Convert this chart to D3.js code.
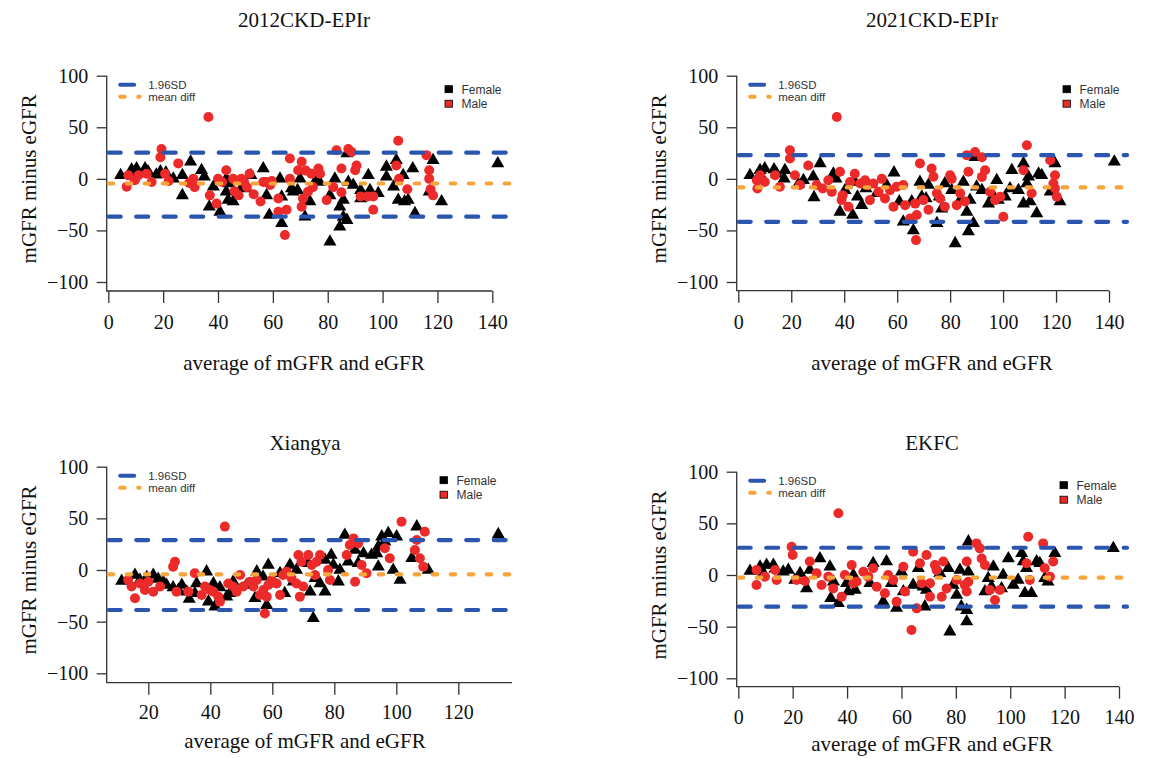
<!DOCTYPE html>
<html>
<head>
<meta charset="utf-8">
<script src="https://cdn.jsdelivr.net/npm/d3@7"></script>
<style>
  body { margin: 0; background: #fff; }
  svg { display: block; }
</style>
</head>
<body>
<svg id="chart" width="1164" height="758"></svg>
<script>
// Bland-Altman style plots: [average of mGFR and eGFR, mGFR minus eGFR]

const yTicks = [-100, -50, 0, 50, 100]
const xTicksFull = [0, 20, 40, 60, 80, 100, 120, 140]
const xTicksXiangya = [20, 40, 60, 80, 100, 120]

// limits: [upper 1.96SD, mean diff, lower 1.96SD]
const ckd2012Limits = [25.4, -4.5, -36.7]
const ckd2021Limits = [23, -8.3, -41.7]
const xiangyaLimits = [29, -4.2, -38.7]
const ekfcLimits = [26.4, -2.6, -30.7]

const ckd2012Female = [[4.5,3.5],[8.5,9],[8.9,2.6],[10.3,10],[13.4,10],[14.5,7],[17.5,4],[19,7],[21,6],[23.7,0],[27,3.5],[27,-16],[30,16.5],[34,8.4],[35,2],[36.8,-27],[38.3,-7.7],[40.7,-32],[43,0],[43,-12.6],[43.7,-20.6],[44,-4.5],[45.5,-22],[48.5,-9],[50.4,-9.4],[52,3.5],[56.5,10],[57.7,-16],[58.7,-35],[62.6,0],[63.2,-17.4],[63.2,-43],[66.8,-9.4],[67.4,-12.6],[69,-11],[69.9,0],[71.7,-36.8],[73.5,-22],[76,0],[77,-3],[80.8,-61],[80.8,-16],[82.6,0],[84.4,-46.5],[84.4,-27],[85.7,-20.6],[85.7,-37],[87,-40],[87,24.5],[87.5,-3],[89.3,-6],[92,-19],[92,-11],[94.8,3.5],[95.4,-11],[98.4,-14],[101.4,2],[101.4,11.6],[104,-7.7],[105,18],[105.7,-20.6],[107.5,3.5],[108,-22],[109.3,-20.6],[111,10],[111.8,-33.5],[117,-12.6],[118.4,18],[121.5,-22],[142,14.8]]
const ckd2012Male = [[6.7,-7.7],[7.3,3.5],[9.7,-1.3],[11,3.5],[14,5],[15.8,-3],[19.4,29],[19,21],[20.7,5],[22,-2],[25.5,15],[29.5,-4],[31,0],[31.5,-8],[36.5,60],[37,-16],[39.5,-24],[40,0],[43,8.4],[41.5,-3],[45.5,0],[46,-12],[47.5,-16],[48.5,0],[49.5,-3],[50.5,-8],[51.5,5],[53,-15],[55.5,-22],[56.5,-3],[57.7,-3],[59,-6],[59.6,-2],[62,-32],[62,-19],[64.4,-54.5],[65,-30],[66.2,19.7],[66.2,0],[69.2,8.4],[70.5,16.5],[70.5,-27],[71,-19],[72,8],[72.8,-12.5],[74,5],[74.6,-8],[76.6,10],[77.2,5],[79.6,-20.6],[82,-8],[83.2,27.7],[85,10],[85,-13],[87.5,29],[88.7,26],[90,8.4],[90.5,13],[92,-17],[94.5,-17],[96.6,-30],[96.6,-17],[105.7,37],[105,13],[106,0],[109,-10],[116,23],[117,8.4],[117,0],[117.5,-10],[118.4,-16]]

const ckd2021Female = [[4.4,3.5],[8.2,8.4],[8.8,2],[10,10],[13.5,9],[14.5,5],[17.6,8.4],[17.3,0],[22.7,-5],[24.6,-1.3],[28.3,2],[28.6,-18],[30.9,15],[35.9,5],[36.9,0],[38.4,-32],[40.3,-11],[43.2,-35],[44,-3],[45,-17.4],[46.6,-25.5],[48.2,-9.4],[52.3,-14],[56,-6],[58.8,6],[60.8,-22],[62.3,-41.6],[65.5,-22],[66.1,-50],[68.6,-3],[69.3,-17.4],[70.9,-19],[71.8,-6],[75,-43],[75.9,-17.4],[76.8,-29],[78,-4.5],[80.6,-11],[81.9,-62.6],[83.8,-20.6],[85,-3],[86.3,-32],[86.9,-51],[87.5,-20.6],[88.8,-43],[89.4,21],[90,-7.7],[92,-11],[94.5,-24],[96.3,-16],[97.6,-1.3],[98.2,-20.6],[100.8,-17.4],[102.6,-9.4],[103.3,8.4],[105.8,-11],[107.7,15],[107.7,-24],[109,-4.5],[109.6,2],[110.2,-22],[112.7,-33.5],[113.4,5],[114.6,3.5],[117.8,-12.6],[119.6,15],[121.5,-22],[142,16.5]]
const ckd2021Male = [[7,-1.3],[7.2,-9.4],[8.2,3.5],[10,-3],[13.9,3.5],[15.7,-7.7],[19.5,27.7],[19.5,19.7],[21.4,3.5],[23.3,-6],[26.4,13],[29.6,-6],[31.9,-9.4],[34,-1.3],[35.3,-12.6],[37.2,60],[38.4,6.8],[39,-20.6],[39.4,-16],[41.6,-27],[42.2,-3],[44,5],[46,-4.5],[47.9,-1.3],[49,-6],[49.7,-20.6],[51,-4.5],[53,-12.6],[54.2,0],[55.4,-19],[57.3,-11],[58.6,-27],[59.8,-7.7],[62.3,-6],[63,-25.5],[64.9,-38.4],[66.8,-24],[67.4,-35],[67.1,-59.4],[68.6,15],[69.9,-20.6],[71.8,-30],[73,10],[73.7,2],[75,-14],[76.2,-19],[78,-27],[80,3.5],[80.6,0],[82.5,-25.5],[83.8,-14],[85.6,-22],[86.3,23],[86.9,6.8],[89.4,26],[92,21],[92,1.9],[93.2,8.4],[95.1,-12.6],[97,-20.6],[98.9,-17.4],[100.1,-36.8],[107.7,8.4],[109,32.6],[110.8,-14],[117.8,18],[119,-4.5],[119.6,3.5],[119.6,-9.4],[120.3,-17.4]]

const xiangyaFemale = [[11.4,-10.6],[15.7,-4.8],[17.3,-9.7],[19.5,-7],[21.6,-4.8],[23.2,-8.7],[24.8,-11.3],[25.9,-14.5],[28,-17],[29.7,-19.4],[30.8,-14.5],[32.4,-21],[33.2,-28],[35,-22.6],[35.6,-13],[38.8,-1.6],[39.4,-30.6],[41,-13],[41.5,-35.5],[43.1,-17],[45.3,-25.8],[46.3,-22.6],[47.4,-11.3],[51.7,-14.5],[54.4,-27.4],[55,-1.6],[57,-6.5],[58.2,-34],[58.7,4.8],[60.3,-13],[62.5,-3.2],[64,-22.6],[65.7,4.8],[66.8,-11.3],[67.8,0],[71.6,6.5],[72.2,-21],[73.2,-46.8],[73.8,-8],[75.4,-13],[77,-21],[77,9.7],[79,14.5],[79.7,4.8],[81.3,-11.3],[81.8,0],[83.4,33.9],[84.5,8],[86.7,19.4],[87.7,6.5],[89.4,16],[92,14.5],[93.7,16],[94.2,22.6],[94.2,3.2],[95.3,32.3],[95.8,24.2],[96.3,27.4],[97.4,35.5],[99,0],[100.1,32.3],[101.2,-9.7],[105,11.3],[106.6,42],[110.3,0],[132.9,34.5]]
const xiangyaMale = [[13.5,-9.7],[14.6,-16],[15.7,-27.4],[17.3,-13],[18.9,-19.4],[20,-11.3],[21.6,-21],[23.8,-16],[28,3.2],[28.6,8],[29.1,-21],[32.9,-21],[35,-3.2],[37.2,-24.2],[38.3,-16],[39.9,-19.4],[41,-21],[42.6,-25.8],[43.1,-30.6],[44.7,42],[45.8,-13],[47.4,-16],[48.5,-21],[49.6,-4.8],[50.6,-16],[52.8,-11.3],[53.9,-16],[55,-9.7],[56,-24.2],[57.1,-19.4],[57.6,-42],[58.2,-25.8],[58.7,-14.5],[59.8,-9.7],[61.4,-13],[62.5,-24.2],[63.5,-4.8],[64.6,-1.6],[66.2,-8],[67.8,-13],[68.4,14.5],[68.9,-25.8],[69.4,8],[70,-16],[71.6,14.5],[72.7,4.8],[73.8,-4.8],[74.3,8],[75.4,14.5],[78,0],[78.6,-9.7],[84,14.5],[85,24.2],[86.2,30.6],[86.7,-11.3],[87.7,25.8],[88.8,4.8],[90.4,-3.2],[96.3,21],[97.9,11.3],[101.7,46.8],[106,19.4],[106.6,29],[107.6,11.3],[108.7,3.2],[109.2,37]]

const ekfcFemale = [[4.3,3.9],[8,8],[9.2,2],[10.4,9.7],[12.9,9.7],[13.5,6],[16.5,3.2],[18.4,4.8],[20.8,-4.8],[22.7,1.6],[25.1,-13],[26.3,4.8],[30,16],[33.7,8],[34,-22.6],[35,-6.5],[36.8,-27.4],[39.8,-8],[40.4,-16],[42.3,0],[43,-14.5],[48.4,-8],[49.6,11.3],[53.3,-25.8],[54.5,13],[56.3,-8],[58.2,-32],[60,3.2],[60.7,-16],[64.3,-9.7],[66.2,6.5],[68,-11.3],[68.6,-30.6],[69.2,-14.5],[74.1,1.6],[77.2,6.5],[77.8,-54.8],[79,-9.7],[80.3,-19.4],[81.5,4.8],[82,-30.6],[84,-34],[84,-45],[84.6,32.3],[84.6,3.2],[90.7,-16],[91.9,-3.2],[93.1,-11.3],[93.8,8],[97.4,0],[96.8,-13],[99.3,16],[101.1,-9.7],[102.9,-4.8],[104.2,21],[104.8,13],[105.4,-17.7],[106,6.5],[107.8,-17.7],[109.7,13],[110.9,11.3],[112.7,-3.2],[113.9,-6.5],[116.4,21],[137.9,25.8]]
const ekfcMale = [[6.7,4.8],[6.7,-9.7],[9.8,-1.6],[13.5,4.8],[14.1,-4.8],[19.6,27.4],[20,19.4],[21.4,-4.8],[24.5,-5.8],[26.3,13],[28.8,1.6],[30.6,-9.7],[33.1,-1.6],[34.9,-13],[36.8,59.7],[38,-21],[39.2,0],[41.7,9.7],[42.3,-8],[43.5,-6.5],[46,3.2],[47.8,-1.6],[49.6,6.5],[50.9,-11.3],[53.9,-17.7],[55.1,0],[57,-4.8],[58.2,-25.8],[60.7,8],[61.3,-16],[63.7,-53.2],[64.3,22.6],[65.6,-32.3],[66.8,11.3],[67.4,-8],[69.2,19.4],[70.5,-21],[70.5,-8],[72.3,9.7],[72.9,4.8],[74.8,-21],[75.4,13],[76.6,-13],[80.3,-4.8],[83.3,-9.7],[84,13],[84,-16],[84.6,-6.5],[87.6,30.6],[88.8,25.8],[89.5,16],[90.7,9.7],[92.5,-14.5],[94.4,-24.2],[96.2,-14.5],[106.6,37],[106,11.3],[107.2,-4.8],[112.1,30.6],[112.7,6.5],[115.8,13],[114.6,-1.6]]

const panels = [
  { title: "2012CKD-EPIr", female: ckd2012Female, male: ckd2012Male, limits: ckd2012Limits,
    xTicks: xTicksFull, xDom: [0, 140], xRange: [108.3, 492.3], yRange: [282, 75.7],
    axisX: 106.7, axisY: 291, bottomEnd: 492.3, plotRight: 512,
    titleX: 304, titleY: 27, labX: 304, labY: 370, tickPad: 12, legX: 445 },
  { title: "2021CKD-EPIr", female: ckd2021Female, male: ckd2021Male, limits: ckd2021Limits,
    xTicks: xTicksFull, xDom: [0, 140], xRange: [738.3, 1109], yRange: [282, 75.7],
    axisX: 736.7, axisY: 290.7, bottomEnd: 1109, plotRight: 1127,
    titleX: 932, titleY: 27, labX: 932, labY: 370, tickPad: 12, legX: 1063 },
  { title: "Xiangya", female: xiangyaFemale, male: xiangyaMale, limits: xiangyaLimits,
    xTicks: xTicksXiangya, xDom: [20, 120], xRange: [148.3, 458.3], yRange: [673.3, 466.7],
    axisX: 106.7, axisY: 682.7, bottomEnd: 512, plotRight: 512,
    titleX: 305, titleY: 450, labX: 305, labY: 748, tickPad: 10.5, legX: 440 },
  { title: "EKFC", female: ekfcFemale, male: ekfcMale, limits: ekfcLimits,
    xTicks: xTicksFull, xDom: [0, 140], xRange: [738.3, 1119], yRange: [678.3, 471.7],
    axisX: 736.7, axisY: 686.7, bottomEnd: 1119, plotRight: 1127,
    titleX: 932, titleY: 450, labX: 932, labY: 751, tickPad: 11.5, legX: 1060 }
]

const serif = "'Liberation Serif', 'Times New Roman', serif"
const sans = "'Liberation Sans', Arial, sans-serif"
const blue = "#2b56b0"
const orange = "#f7a43a"
const red = "#ec2a2a"
const axisColor = "#333"

const svg = d3.select("#chart")

panels.forEach(p => {
  const x = d3.scaleLinear().domain(p.xDom).range(p.xRange)
  const y = d3.scaleLinear().domain([-100, 100]).range(p.yRange)
  const g = svg.append("g")

  // L-shaped frame
  g.append("path")
    .attr("d", `M${p.axisX},${y(100)}V${p.axisY}H${p.bottomEnd}`)
    .attr("fill", "none").attr("stroke", axisColor).attr("stroke-width", 1.3)

  const yAxis = g.append("g")
    .attr("transform", `translate(${p.axisX},0)`)
    .call(d3.axisLeft(y).tickValues(yTicks).tickSize(10).tickPadding(8.5).tickSizeOuter(0))
  yAxis.select(".domain").remove()

  const xAxis = g.append("g")
    .attr("transform", `translate(0,${p.axisY})`)
    .call(d3.axisBottom(x).tickValues(p.xTicks).tickSize(12).tickPadding(p.tickPad).tickSizeOuter(0))
  xAxis.select(".domain").remove()

  g.selectAll(".tick line").attr("stroke", axisColor).attr("stroke-width", 1.3)
  g.selectAll(".tick text")
    .attr("font-family", serif).attr("font-size", 20).attr("fill", "#111")

  // points
  g.append("g").selectAll("path")
    .data(p.female)
    .join("path")
    .attr("d", d3.symbol(d3.symbolTriangle, 74))
    .attr("transform", d => `translate(${x(d[0])},${y(d[1])})`)
    .attr("fill", "#000")

  g.append("g").selectAll("circle")
    .data(p.male)
    .join("circle")
    .attr("cx", d => x(d[0]))
    .attr("cy", d => y(d[1]))
    .attr("r", 5)
    .attr("fill", red)

  // limits of agreement and mean difference
  const limitStyle = [
    { color: blue, dash: "12,15.5" },
    { color: orange, dash: "4.5,13.5" },
    { color: blue, dash: "12,15.5" }
  ]
  p.limits.forEach((v, i) => {
    g.append("line")
      .attr("x1", p.axisX + 2).attr("x2", p.plotRight)
      .attr("y1", y(v)).attr("y2", y(v))
      .attr("stroke", limitStyle[i].color)
      .attr("stroke-width", 4.2)
      .attr("stroke-linecap", "round")
      .attr("stroke-dasharray", limitStyle[i].dash)
  })

  // line legend (top left)
  const ly = y(100)
  g.append("line")
    .attr("x1", p.axisX + 13.5).attr("x2", p.axisX + 27.5)
    .attr("y1", ly + 9).attr("y2", ly + 9)
    .attr("stroke", blue).attr("stroke-width", 4).attr("stroke-linecap", "round")
  g.append("line")
    .attr("x1", p.axisX + 13.5).attr("x2", p.axisX + 33)
    .attr("y1", ly + 21).attr("y2", ly + 21)
    .attr("stroke", orange).attr("stroke-width", 4).attr("stroke-linecap", "round")
    .attr("stroke-dasharray", "4.5,13.5")
  g.append("text")
    .attr("x", p.axisX + 41.5).attr("y", ly + 13)
    .attr("font-family", sans).attr("font-size", 11.5).attr("fill", "#333")
    .text("1.96SD")
  g.append("text")
    .attr("x", p.axisX + 41.5).attr("y", ly + 25)
    .attr("font-family", sans).attr("font-size", 11.5).attr("fill", "#333")
    .text("mean diff")

  // sex legend (top right)
  const sexes = [{ name: "Female", fill: "#000" }, { name: "Male", fill: red }]
  sexes.forEach((s, i) => {
    g.append("rect")
      .attr("x", p.legX).attr("y", ly + 10 + i * 14.5)
      .attr("width", 7.5).attr("height", 7)
      .attr("fill", s.fill).attr("stroke", "#000").attr("stroke-width", 0.8)
    g.append("text")
      .attr("x", p.legX + 16.5).attr("y", ly + 18 + i * 14.5)
      .attr("font-family", sans).attr("font-size", 12).attr("fill", "#333")
      .text(s.name)
  })

  // titles and axis labels
  g.append("text")
    .attr("x", p.titleX).attr("y", p.titleY)
    .attr("text-anchor", "middle")
    .attr("font-family", serif).attr("font-size", 21).attr("fill", "#111")
    .text(p.title)
  g.append("text")
    .attr("x", p.labX).attr("y", p.labY)
    .attr("text-anchor", "middle")
    .attr("font-family", serif).attr("font-size", 21).attr("fill", "#111")
    .text("average of mGFR and eGFR")
  g.append("text")
    .attr("transform", `translate(${p.axisX - 71},${y(0)}) rotate(-90)`)
    .attr("text-anchor", "middle")
    .attr("font-family", serif).attr("font-size", 21).attr("fill", "#111")
    .text("mGFR minus eGFR")
})
</script>
</body>
</html>
